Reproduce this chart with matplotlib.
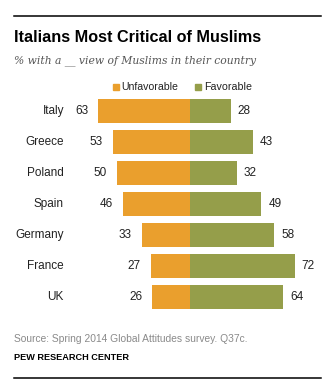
import matplotlib
matplotlib.use("Agg")
import matplotlib.pyplot as plt
from matplotlib.patches import Rectangle
from matplotlib.lines import Line2D

countries = ["Italy", "Greece", "Poland", "Spain", "Germany", "France", "UK"]
unfavorable = [63, 53, 50, 46, 33, 27, 26]
favorable = [28, 43, 32, 49, 58, 72, 64]

ORANGE = "#EA9F2D"
GREEN = "#959E4A"
W, H = 336, 392

fig = plt.figure(figsize=(W / 100, H / 100), dpi=100)
SANS = ["Liberation Sans", "DejaVu Sans"]

def fx(px):
    return px / W

def fy(py):
    return 1 - py / H

# rules
fig.add_artist(Line2D([fx(14), fx(321)], [fy(16), fy(16)], color="black", lw=1.1))
fig.add_artist(Line2D([fx(14), fx(321)], [fy(378), fy(378)], color="black", lw=1.1))

fig.text(fx(14), fy(38), "Italians Most Critical of Muslims", fontsize=11.7,
         fontweight="bold", family=SANS, va="center", ha="left")
fig.text(fx(14), fy(61), "% with a __ view of Muslims in their country", fontsize=7.75,
         style="italic", family=["DejaVu Serif"], color="#555555", va="center", ha="left")

# legend
fig.add_artist(Rectangle((fx(113), fy(90)), fx(6), 6 / H, color=ORANGE, transform=fig.transFigure))
fig.text(fx(121), fy(87), "Unfavorable", fontsize=7.6, family=SANS, va="center", ha="left", color="#222222")
fig.add_artist(Rectangle((fx(195), fy(90)), fx(6), 6 / H, color=GREEN, transform=fig.transFigure))
fig.text(fx(204), fy(87), "Favorable", fontsize=7.7, family=SANS, va="center", ha="left", color="#222222")

# axes
scale = 1.455
x0 = 190
ax = fig.add_axes([fx(14), fy(312.5), 307 / W, 217 / H])
ax.set_xlim(-(x0 - 14) / scale, (321 - x0) / scale)
ax.set_ylim(len(countries) - 0.5, -0.5)
ax.axis("off")

ys = list(range(len(countries)))
ax.barh(ys, [-u for u in unfavorable], height=0.77, color=ORANGE, left=0)
ax.barh(ys, favorable, height=0.77, color=GREEN, left=0)

lab_x = (64 - x0) / scale
for y, c, u, f in zip(ys, countries, unfavorable, favorable):
    ax.text(lab_x, y, c, ha="right", va="center", fontsize=8.5, family=SANS, color="#222222")
    ax.text(-u - 6.9, y, str(u), ha="right", va="center", fontsize=8.5, family=SANS, color="#222222")
    ax.text(f + 4.8, y, str(f), ha="left", va="center", fontsize=8.5, family=SANS, color="#222222")

fig.text(fx(14), fy(339), "Source: Spring 2014 Global Attitudes survey. Q37c.", fontsize=7.4,
         family=SANS, color="#8a8a8a", va="center", ha="left")
fig.text(fx(14), fy(357), "PEW RESEARCH CENTER", fontsize=6.6, fontweight="bold",
         family=SANS, color="black", va="center", ha="left")

fig.savefig("out.png", dpi=100)
